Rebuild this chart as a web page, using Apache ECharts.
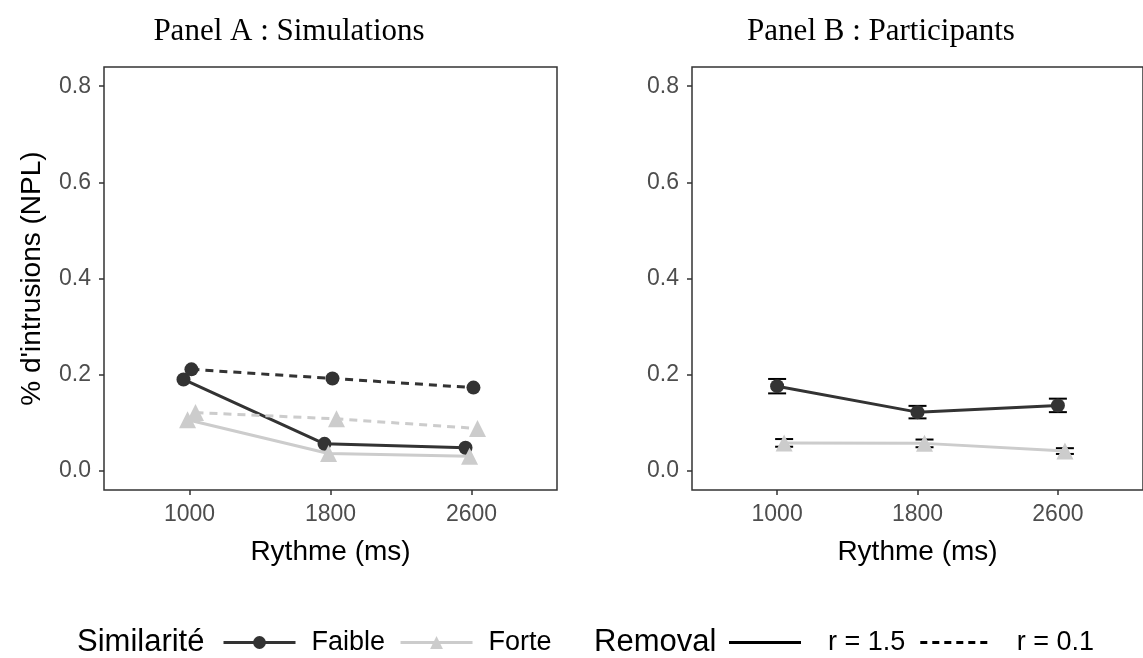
<!DOCTYPE html>
<html>
<head>
<meta charset="utf-8">
<script src="https://cdn.jsdelivr.net/npm/echarts@6/dist/echarts.min.js"></script>
<style>
  html, body { margin: 0; padding: 0; background: #fff; }
  #chart { width: 1143px; height: 658px; }
</style>
</head>
<body>
<div id="chart"></div>
<script>
// rythme (ms) and the dodge used for each group
const rythme = [1000, 1800, 2600];
const dodgeSim = { faible15: -34, forte15: -11, faible01: 11, forte01: 34 };
const dodgePart = { faible: 0, forte: 40 };

// Panel A : simulations
const simFaibleR15 = [0.190, 0.056, 0.048];
const simForteR15 = [0.106, 0.036, 0.030];
const simFaibleR01 = [0.211, 0.192, 0.173];
const simForteR01 = [0.121, 0.108, 0.088];

// Panel B : participants (mean, standard error)
const partFaible = [0.176, 0.122, 0.136];
const partFaibleSe = [0.015, 0.013, 0.014];
const partForte = [0.058, 0.057, 0.041];
const partForteSe = [0.008, 0.008, 0.006];

const yTicks = [0, 0.2, 0.4, 0.6, 0.8];

const DARK = '#333333';
const LIGHT = '#cccccc';
const SANS = 'Liberation Sans';

function pts(vals, off) {
  return vals.map((v, i) => [rythme[i] + off, v]);
}
function bars(vals, se, off) {
  return vals.map((v, i) => [rythme[i] + off, v - se[i], v + se[i]]);
}

function errorBar(params, api) {
  const x = api.value(0);
  const lo = api.coord([x, api.value(1)]);
  const hi = api.coord([x, api.value(2)]);
  const hw = 9;
  const st = { stroke: '#000', lineWidth: 2 };
  return {
    type: 'group',
    children: [
      { type: 'line', shape: { x1: hi[0], y1: hi[1], x2: lo[0], y2: lo[1] }, style: st },
      { type: 'line', shape: { x1: hi[0] - hw, y1: hi[1], x2: hi[0] + hw, y2: hi[1] }, style: st },
      { type: 'line', shape: { x1: lo[0] - hw, y1: lo[1], x2: lo[0] + hw, y2: lo[1] }, style: st }
    ]
  };
}

function xAx(idx) {
  return {
    type: 'value', gridIndex: idx, min: 515, max: 3085,
    name: 'Rythme (ms)', nameLocation: 'middle', nameGap: 48,
    nameTextStyle: { fontFamily: SANS, fontSize: 28, color: '#000' },
    axisLine: { show: false, onZero: false },
    axisTick: { show: true, length: 5, customValues: rythme, lineStyle: { color: '#333', width: 1.5 } },
    axisLabel: { customValues: rythme, margin: 13, fontFamily: SANS, fontSize: 23, color: '#4d4d4d',
      formatter: v => String(v) },
    splitLine: { show: false }
  };
}
function yAx(idx, withName) {
  return {
    type: 'value', gridIndex: idx, min: -0.04, max: 0.84,
    name: withName ? "% d'intrusions (NPL)" : '', nameLocation: 'middle', nameGap: 58,
    nameTextStyle: { fontFamily: SANS, fontSize: 28, color: '#000' },
    axisLine: { show: false, onZero: false },
    axisTick: { show: true, length: 5, customValues: yTicks, lineStyle: { color: '#333', width: 1.5 } },
    axisLabel: { customValues: yTicks, margin: 13, fontFamily: SANS, fontSize: 23, color: '#4d4d4d',
      formatter: v => v.toFixed(1) },
    splitLine: { show: false }
  };
}

function lineSeries(name, data, color, symbol, dashed, idx) {
  return {
    name: name, type: 'line', xAxisIndex: idx, yAxisIndex: idx, data: data,
    symbol: symbol, symbolSize: symbol === 'circle' ? 14 : 17, showSymbol: true,
    itemStyle: { color: color },
    lineStyle: { color: color, width: 3, type: dashed ? [8, 6] : 'solid' },
    z: 3, silent: true, animation: false
  };
}

const chart = echarts.init(document.getElementById('chart'));
chart.setOption({
  animation: false,
  title: [
    { text: 'Panel A : Simulations', left: 284, top: 11, textAlign: 'center',
      textStyle: { fontFamily: 'Liberation Serif', fontWeight: 'normal', fontSize: 31, color: '#000' } },
    { text: 'Panel B : Participants', left: 876, top: 11, textAlign: 'center',
      textStyle: { fontFamily: 'Liberation Serif', fontWeight: 'normal', fontSize: 31, color: '#000' } },
    { text: 'Similarité', left: 72, top: 622,
      textStyle: { fontFamily: SANS, fontWeight: 'normal', fontSize: 31, color: '#000' } },
    { text: 'Removal', left: 589, top: 622,
      textStyle: { fontFamily: SANS, fontWeight: 'normal', fontSize: 31, color: '#000' } }
  ],
  legend: [
    {
      data: ['Faible', 'Forte'], left: 222, top: 629, orient: 'horizontal', padding: 0,
      itemWidth: 72, itemHeight: 16, itemGap: 14, selectedMode: false,
      lineStyle: { width: 3 },
      textStyle: { fontFamily: SANS, fontSize: 27, color: '#000', padding: [0, 0, 0, 11] }
    },
    {
      data: [
        { name: 'r = 1.5', icon: 'rect' },
        { name: 'r = 0.1', icon: 'path://M0,0h7v3h-7z M12,0h7v3h-7z M24,0h7v3h-7z M36,0h7v3h-7z M48,0h7v3h-7z M60,0h7v3h-7z' }
      ],
      left: 729, top: 629, padding: 0, itemWidth: 72, itemHeight: 3, itemGap: 15, selectedMode: false,
      textStyle: { fontFamily: SANS, fontSize: 27, color: '#000', padding: [0, 0, 0, 22] }
    }
  ],
  grid: [
    { left: 104, top: 67, width: 453, height: 423, show: true, borderColor: '#333', borderWidth: 1.5 },
    { left: 692, top: 67, width: 453, height: 423, show: true, borderColor: '#333', borderWidth: 1.5 }
  ],
  xAxis: [xAx(0), xAx(1)],
  yAxis: [yAx(0, true), yAx(1, false)],
  series: [
    lineSeries('Faible', pts(simFaibleR15, dodgeSim.faible15), DARK, 'circle', false, 0),
    lineSeries('Forte', pts(simForteR15, dodgeSim.forte15), LIGHT, 'triangle', false, 0),
    lineSeries('Faible', pts(simFaibleR01, dodgeSim.faible01), DARK, 'circle', true, 0),
    lineSeries('Forte', pts(simForteR01, dodgeSim.forte01), LIGHT, 'triangle', true, 0),
    {
      type: 'custom', xAxisIndex: 1, yAxisIndex: 1, renderItem: errorBar, z: 2, silent: true,
      data: bars(partFaible, partFaibleSe, dodgePart.faible)
    },
    {
      type: 'custom', xAxisIndex: 1, yAxisIndex: 1, renderItem: errorBar, z: 2, silent: true,
      data: bars(partForte, partForteSe, dodgePart.forte)
    },
    lineSeries('Faible', pts(partFaible, dodgePart.faible), DARK, 'circle', false, 1),
    lineSeries('Forte', pts(partForte, dodgePart.forte), LIGHT, 'triangle', false, 1),
    // legend-only entries for the Removal key
    { name: 'r = 1.5', type: 'line', data: [], itemStyle: { color: '#000' }, symbol: 'none' },
    { name: 'r = 0.1', type: 'line', data: [], itemStyle: { color: '#000' }, symbol: 'none' }
  ]
});
</script>
</body>
</html>
